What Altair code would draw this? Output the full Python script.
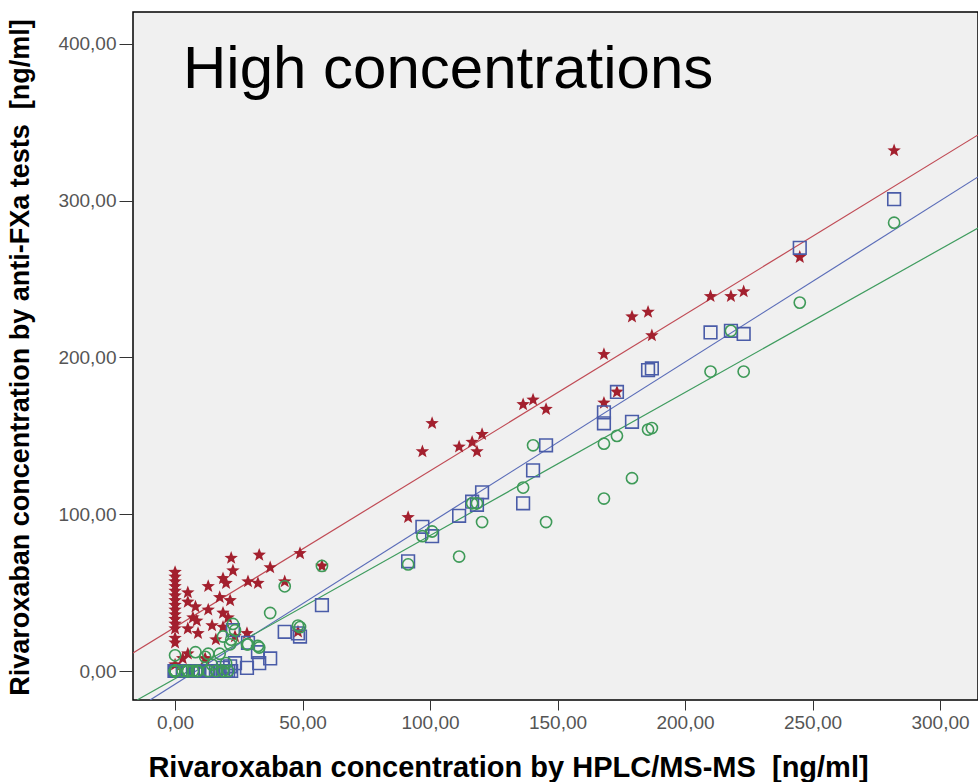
import altair as alt
import pandas as pd

# HPLC/MS-MS concentration per sample (x) and the three anti-FXa results
hplc = [0, 0, 0, 0, 0, 0, 0, 0, 0, 0, 0, 0, 0, 0, 0, 0,
        3, 5, 5, 5, 5, 7, 8, 8.5, 9, 11.8, 13, 13, 14.5, 16, 17.5, 18.8, 18.8, 18.8,
        20, 20.8, 21.6, 22, 22.7, 23.5, 28.2, 28.6, 32.5, 33, 37.3, 43, 48.2, 49, 57.6,
        91.4, 97, 100.8, 111.4, 116.5, 118.4, 120.4, 136.5, 140.4, 145.5, 168.2, 168.2,
        173.3, 179.2, 185.5, 187, 210, 218, 223, 245, 282]
test_star = [63, 60, 57, 54, 51, 48, 45, 42, 39, 36, 33, 30, 27, 21, 18, 4,
             8, 50, 44, 27, 11, 34, 41, 32, 24, 8, 54, 39, 29, 20, 47, 59, 37, 28,
             56, 34, 45, 72, 64, 22, 24, 57, 56, 74, 66, 57, 25, 75, 67,
             98, 140, 158, 143, 146, 140, 151, 170, 173, 167, 202, 171,
             178, 226, 229, 214, 239, 239, 242, 264, 332]
test_square = [0, 0, 0, 0, 0, 0, 0, 0, 0, 0, 0, 0, 0, 0, 0, 0,
               0, 0, 0, 0, 0, 0, 0, 0, 0, 0, 0, 0, 0, 0, 0, 0, 0, 2,
               0, 0, 3, 0, 26, 5, 2, 18, 12, 5, 8, 25, 24, 22, 42,
               70, 92, 86, 99, 108, 106, 114, 107, 128, 144, 165, 158,
               178, 159, 192, 193, 216, 217, 215, 270, 301]
test_circle = [0, 0, 0, 0, 0, 0, 0, 0, 0, 0, 0, 0, 0, 0, 0, 10,
               0, 0, 0, 0, 0, 0, 12, 0, 0, 9, 11, 0, 4, 0, 11, 22, 0, 0,
               5, 0, 17, 20, 30, 26, 17, 17, 16, 15, 37, 54, 29, 28, 67,
               68, 86, 89, 73, 107, 107, 95, 117, 144, 95, 145, 110,
               150, 123, 154, 155, 191, 217, 191, 235, 286]

# Fit lines: start/end points
fit_series = ["star", "square", "circle"]
fit_x0 = [-16.5, -9.8, -14.9]
fit_y0 = [11.5, -18.5, -18.5]
fit_x1 = [314.9, 314.9, 314.9]
fit_y1 = [342.0, 315.2, 282.6]

x_ticks = [0, 50, 100, 150, 200, 250, 300]
y_ticks = [0, 100, 200, 300, 400]
x_domain = [-16.5, 314.9]
y_domain = [-18.5, 420.4]

RED = "#A3202E"
BLUE = "#4A5CA8"
GREEN = "#3E9A58"
LRED = "#C04B55"
LBLUE = "#5A6CB8"
LGREEN = "#3F9C5F"

STAR = ("M0,-1L0.247,-0.340L0.951,-0.309L0.400,0.130L0.588,0.809L0,0.420"
        "L-0.588,0.809L-0.400,0.130L-0.951,-0.309L-0.247,-0.340Z")

pts = pd.DataFrame({"x": hplc, "star": test_star, "square": test_square, "circle": test_circle})
fits = pd.DataFrame({"s": fit_series, "x0": fit_x0, "y0": fit_y0, "x1": fit_x1, "y1": fit_y1})

label_expr = "replace(format(datum.value, '.2f'), '.', ',')"
xscale = alt.Scale(domain=x_domain, nice=False, zero=False)
yscale = alt.Scale(domain=y_domain, nice=False, zero=False)

xaxis = alt.Axis(values=x_ticks, labelExpr=label_expr, grid=False,
                 title="Rivaroxaban concentration by HPLC/MS-MS \u00a0[ng/ml]",
                 tickSize=10, tickColor="#333333", domain=False,
                 labelFont="Liberation Sans", labelFontSize=19, labelColor="#555555", labelPadding=3,
                 titleFont="Liberation Sans", titleFontSize=29, titleFontWeight="bold",
                 titleColor="#000000", titleX=375, titleY=76, titleAlign="center",
                 titleBaseline="alphabetic")
yaxis = alt.Axis(values=y_ticks, labelExpr=label_expr, grid=False,
                 title="Rivaroxaban concentration by anti-FXa tests \u00a0[ng/ml]",
                 tickSize=14, tickColor="#333333", domain=False,
                 labelFont="Liberation Sans", labelFontSize=19, labelColor="#555555", labelPadding=3,
                 titleFont="Liberation Sans", titleFontSize=27, titleFontWeight="bold",
                 titleColor="#000000", titleX=-113, titleY=345, titleAlign="center",
                 titleBaseline="middle", titleAngle=-90)

base = alt.Chart(pts)

lines = alt.Chart(fits).mark_rule(strokeWidth=1.2, clip=True).encode(
    x=alt.X("x0:Q", scale=xscale, axis=xaxis),
    y=alt.Y("y0:Q", scale=yscale, axis=yaxis),
    x2="x1:Q", y2="y1:Q",
    color=alt.Color("s:N", scale=alt.Scale(domain=fit_series, range=[LRED, LBLUE, LGREEN]), legend=None),
)

stars = base.mark_point(shape=STAR, filled=True, size=200, color=RED, opacity=1, clip=True).encode(
    x=alt.X("x:Q", scale=xscale, axis=xaxis), y=alt.Y("star:Q", scale=yscale, axis=yaxis))
squares = base.mark_point(shape="square", filled=False, size=160, color=BLUE, strokeWidth=1.6,
                          opacity=1, clip=True).encode(
    x=alt.X("x:Q", scale=xscale, axis=xaxis), y=alt.Y("square:Q", scale=yscale, axis=yaxis))
circles = base.mark_point(shape="circle", filled=False, size=125, color=GREEN, strokeWidth=1.6,
                          opacity=1, clip=True).encode(
    x=alt.X("x:Q", scale=xscale, axis=xaxis), y=alt.Y("circle:Q", scale=yscale, axis=yaxis))

label = alt.Chart(pd.DataFrame({"t": ["High concentrations"]})).mark_text(
    align="left", baseline="alphabetic", font="Liberation Sans", fontSize=60, color="#000000"
).encode(x=alt.value(50), y=alt.value(76), text="t:N")

chart = alt.layer(lines, stars, squares, circles, label).properties(
    width=845, height=688,
    padding={"left": 133, "top": 12, "right": 0, "bottom": 82},
    autosize="none",
    background="#FFFFFF",
).configure_view(fill="#F0F0F0", stroke="#000000", strokeWidth=1.5)

chart.save("out.html", embed_options={"renderer": "svg", "actions": False})
